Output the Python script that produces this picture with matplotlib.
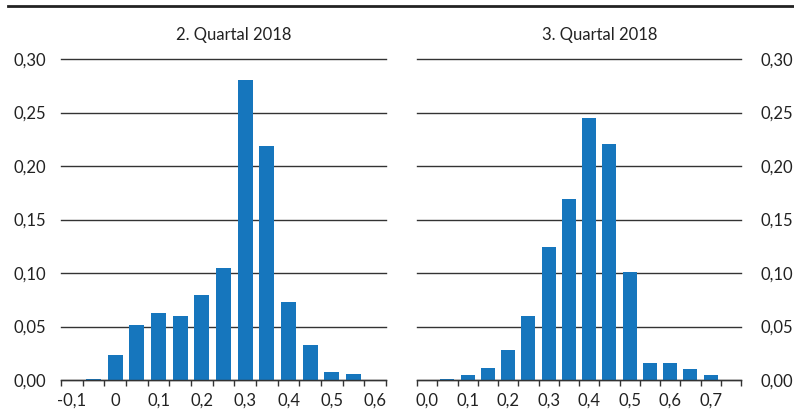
import numpy as np
import matplotlib.pyplot as plt
from matplotlib.lines import Line2D

plt.rcParams['font.family'] = ['Lato', 'DejaVu Sans']

# Data
q2_bins = [-0.1, -0.05, 0.0, 0.05, 0.1, 0.15, 0.2, 0.25, 0.3, 0.35, 0.4, 0.45, 0.5, 0.55, 0.6]
q2_vals = [0.0, 0.0005, 0.023, 0.051, 0.063, 0.060, 0.079, 0.105, 0.280, 0.219, 0.073, 0.0325, 0.0072, 0.006, 0.0]
q2_labels = ["-0,1", "0", "0,1", "0,2", "0,3", "0,4", "0,5", "0,6"]

q3_bins = [0.0, 0.05, 0.1, 0.15, 0.2, 0.25, 0.3, 0.35, 0.4, 0.45, 0.5, 0.55, 0.6, 0.65, 0.7, 0.75]
q3_vals = [0.0, 0.0005, 0.0045, 0.011, 0.028, 0.060, 0.124, 0.169, 0.2445, 0.221, 0.1005, 0.0155, 0.0155, 0.010, 0.0045, 0.0]
q3_labels = ["0,0", "0,1", "0,2", "0,3", "0,4", "0,5", "0,6", "0,7"]

y_ticks = [0.0, 0.05, 0.10, 0.15, 0.20, 0.25, 0.30]
y_labels = ["0,00", "0,05", "0,10", "0,15", "0,20", "0,25", "0,30"]

titles = ["2. Quartal 2018", "3. Quartal 2018"]

bar_color = "#1676bd"
line_color = "#333333"
W, H = 794, 416
fs = 12

fig = plt.figure(figsize=(W / 100, H / 100), dpi=100)

ax1 = fig.add_axes([61 / W, (H - 380) / H, 325 / W, 321 / H])
ax2 = fig.add_axes([417 / W, (H - 380) / H, 324 / W, 321 / H])


def draw_panel(ax, vals, labels, side):
    n = len(vals)
    x = np.arange(n)
    ax.bar(x, vals, width=0.68, color=bar_color, zorder=3)
    ax.set_xlim(-0.5, n - 0.5)
    ax.set_ylim(0, 0.30)
    for s in ["top", "left", "right"]:
        ax.spines[s].set_visible(False)
    ax.spines["bottom"].set_color(line_color)
    ax.spines["bottom"].set_linewidth(1.0)
    ax.spines["bottom"].set_zorder(4)
    # boundary ticks, labels at every second bin centre
    ax.set_xticks(np.arange(n + 1) - 0.5)
    ax.set_xticklabels([])
    ax.tick_params(axis="x", which="major", direction="out", length=4, width=1, color=line_color)
    ax.set_xticks(x[::2], minor=True)
    ax.set_xticklabels(labels, minor=True)
    ax.tick_params(axis="x", which="minor", length=0, pad=9, labelsize=fs, labelcolor="#222222")
    ax.set_yticks(y_ticks)
    ax.set_yticklabels(y_labels)
    ax.yaxis.grid(True, color=line_color, linewidth=1.0, zorder=0)
    ax.set_axisbelow(True)
    if side == "right":
        ax.yaxis.tick_right()
        ax.tick_params(axis="y", length=0, pad=14, labelsize=fs, labelcolor="#222222")
    else:
        ax.tick_params(axis="y", length=0, pad=11, labelsize=fs, labelcolor="#222222")
    for gl in ax.get_ygridlines():
        gl.set_clip_on(False)


draw_panel(ax1, q2_vals, q2_labels, "left")
draw_panel(ax2, q3_vals, q3_labels, "right")

fig.text(234 / W, 1 - 35 / H, titles[0], ha="center", va="center", fontsize=fs, color="#222222")
fig.text(600 / W, 1 - 35 / H, titles[1], ha="center", va="center", fontsize=fs, color="#222222")

# top rule
fig.add_artist(Line2D([8 / W, 1.0], [1 - 6 / H, 1 - 6 / H], color="#222222", linewidth=2.0,
                      transform=fig.transFigure))

fig.savefig("out.png", dpi=100)
